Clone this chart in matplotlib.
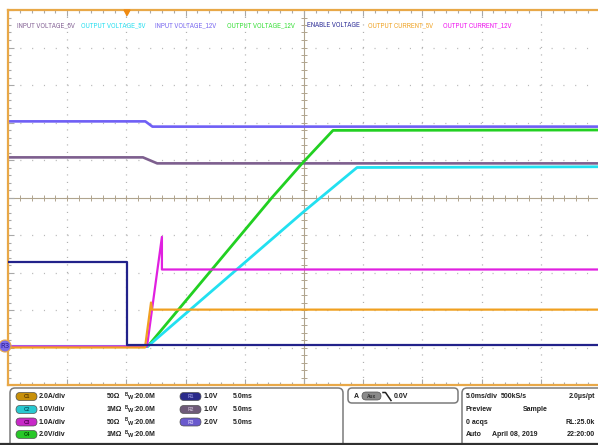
import matplotlib.pyplot as plt
import numpy as np
from matplotlib import font_manager
from matplotlib.patches import FancyBboxPatch, Circle, Polygon

plt.rcParams['lines.scale_dashes'] = False

# scope capture: time in ms (5 ms/div), level in screen divisions
t_in12 = [-25, -13.4, -12.8, 25]
v_in12 = [2.03, 2.03, 1.89, 1.89]
t_in5 = [-25, -13.6, -12.4, 25]
v_in5 = [1.07, 1.07, 0.91, 0.91]
t_out12 = [-25, -13.2, -2.7, -0.1, 2.45, 25]
v_out12 = [-3.97, -3.97, 0.0, 0.93, 1.79, 1.80]
t_out5 = [-25, -13.2, 0.0, 4.48, 25]
v_out5 = [-3.97, -3.97, -0.37, 0.80, 0.82]
t_i12 = [-25, -13.26, -12.0, -12.0, 25]
v_i12 = [-3.97, -3.97, -1.05, -1.92, -1.92]
t_i5 = [-25, -13.43, -12.92, -12.84, 25]
v_i5 = [-4.0, -4.0, -2.80, -2.99, -2.99]
t_en = [-25, -14.95, -14.95, 25]
v_en = [-1.73, -1.73, -3.93, -3.93]

trace_names = ['INPUT VOLTAGE_5V', 'OUTPUT VOLTAGE_5V', 'INPUT VOLTAGE_12V',
               'OUTPUT VOLTAGE_12V', 'ENABLE VOLTAGE', 'OUTPUT CURRENT_5V',
               'OUTPUT CURRENT_12V']
name_colors = ['#8a6a9a', '#30e0f0', '#7f6ff0', '#40e040', '#34349a',
               '#f0a830', '#f020f0']
name_x = [17, 81, 155, 227, 307, 368, 443]

ch_names = ['C1', 'C2', 'C3', 'C4']
ch_scale = ['2.0A/div', '1.0V/div', '1.0A/div', '2.0V/div']
ch_imp = ['50\u03a9', '1M\u03a9', '50\u03a9', '1M\u03a9']
ch_bw = [':20.0M', ':20.0M', ':20.0M', ':20.0M']
ch_col = ['#c8900a', '#28c8d0', '#c828c8', '#28c828']
ch_txt = ['#5a3a00', '#005a66', '#520052', '#005200']
ref_names = ['R1', 'R2', 'R3']
ref_volt = ['1.0V', '1.0V', '2.0V']
ref_time = ['5.0ms', '5.0ms', '5.0ms']
ref_col = ['#2a2a8a', '#6e5a78', '#6a5acd']
ref_txt = ['#8c8cd8', '#c0b0c8', '#c8c0f0']

acq_left = ['5.0ms/div', 'Preview', '0 acqs', 'Auto']
acq_mid = ['500kS/s', 'Sample', '', 'April 08, 2019']
acq_right = ['2.0\u00b5s/pt', '', 'RL:25.0k', '22:20:00']

installed = {f.name for f in font_manager.fontManager.ttflist}
if 'Archivo Narrow' in installed:
    label_font, label_size = ['Archivo Narrow', 'DejaVu Sans'], 5.2
else:
    label_font, label_size = ['Liberation Sans', 'DejaVu Sans'], 4.2
info_font, info_size = ['Liberation Sans', 'DejaVu Sans'], 5.0

W, H = 598, 445
fig = plt.figure(figsize=(W / 100, H / 100), dpi=100)
fig.patch.set_facecolor('white')

ax = fig.add_axes([8 / W, 60 / H, 592 / W, 375 / H])
ax.set_xlim(-25, 25)
ax.set_ylim(-5, 5)
frame = '#e8a848'
for s in ['top', 'left', 'bottom']:
    ax.spines[s].set_color(frame)
    ax.spines[s].set_linewidth(1.6)
ax.spines['right'].set_visible(False)
ax.set_xticks(np.arange(-25, 26, 5))
ax.set_xticks(np.arange(-25, 26, 1), minor=True)
ax.set_yticks(np.arange(-5, 6, 1))
ax.set_yticks(np.arange(-5, 5.01, 0.2), minor=True)
ax.tick_params(which='both', direction='in', top=True, bottom=True,
               left=True, right=False, labelbottom=False, labelleft=False,
               color='#a8a8a8', width=0.8)
ax.tick_params(which='major', length=4)
ax.tick_params(which='minor', length=2.2)

# dotted graticule
for k in range(-4, 5):
    if k == 0:
        continue
    ax.axvline(k * 5, color='#b0b0b0', lw=0.9, dashes=(0.8, 4.6), zorder=0)
    ax.axhline(k, color='#b8b8b8', lw=0.9, dashes=(0.8, 7.7), zorder=0)
# centre cross with ticks
ax.axvline(0, color='#b0a48e', lw=0.8, zorder=0.5)
ax.axhline(0, color='#b0a48e', lw=0.8, zorder=0.5)
ax.hlines(np.arange(-5, 5.01, 0.2), -0.25, 0.25, color='#b0a48e', lw=0.7, zorder=0.5)
ax.vlines(np.arange(-25, 25.01, 1), -0.08, 0.08, color='#b0a48e', lw=0.7, zorder=0.5)

ax.plot(t_in12, v_in12, color='#6f5ff5', lw=1.9, zorder=2)
ax.plot(t_in5, v_in5, color='#7d5f8e', lw=1.9, zorder=2)
ax.plot(t_out12, v_out12, color='#22d022', lw=2.0, zorder=3)
ax.plot(t_out5, v_out5, color='#22e0f0', lw=2.0, zorder=3)
ax.plot(t_i12, v_i12, color='#e020e0', lw=1.6, zorder=4)
ax.plot(t_i5, v_i5, color='#f0a020', lw=1.6, zorder=4)
ax.plot(t_en, v_en, color='#22228a', lw=1.6, zorder=5)

# overlay in pixel coordinates for screen furniture
ov = fig.add_axes([0, 0, 1, 1])
ov.set_xlim(0, W)
ov.set_ylim(H, 0)
ov.axis('off')

for name, c, x in zip(trace_names, name_colors, name_x):
    ov.text(x, 25, name, color=c, fontsize=label_size, family=label_font, va='center')

# trigger marker and ground marker
ov.add_patch(Polygon([[124, 10], [130, 10], [127, 15.5]], closed=True,
                     color='#f08a10', zorder=6))
ov.add_patch(Circle((5, 346), 6, facecolor='#7b6be8', edgecolor='#e8a848',
                    lw=0.8, zorder=6))
ov.text(5, 346.5, 'R3', fontsize=5, color='#2a1a90', ha='center', va='center', zorder=7)

# info panel
box_kw = dict(facecolor='white', edgecolor='#7a7a7a', lw=1.1)
ov.add_patch(FancyBboxPatch((10, 388), 333, 70, boxstyle='round,pad=0,rounding_size=5', **box_kw))
ov.add_patch(FancyBboxPatch((348, 388), 110, 15, boxstyle='round,pad=0,rounding_size=4', **box_kw))
ov.add_patch(FancyBboxPatch((462, 388), 150, 70, boxstyle='round,pad=0,rounding_size=5', **box_kw))
ov.plot([0, W], [443.5, 443.5], color='#303030', lw=1.6)

bold = dict(fontsize=info_size, family=info_font, weight='bold', color='#202020', va='center')
rows = [396.5, 409.5, 422, 434.5]


def badge(x, y, label, fc, tc):
    ov.add_patch(FancyBboxPatch((x, y - 4), 21, 8, boxstyle='round,pad=0,rounding_size=4',
                                facecolor=fc, edgecolor='#505050', lw=0.5))
    ov.text(x + 10.5, y + 0.3, label, fontsize=3.6, family=info_font, weight='bold',
            color=tc, ha='center', va='center')


for i in range(4):
    y = rows[i]
    badge(16, y, ch_names[i], ch_col[i], ch_txt[i])
    ov.text(39, y, ch_scale[i], **bold)
    ov.text(107, y, ch_imp[i], **bold)
    ov.text(125, y - 2.2, 'B', fontsize=info_size * 0.65, family=info_font, weight='bold', color='#202020', va='center')
    ov.text(127.5, y + 1.2, 'W', fontsize=info_size * 0.8, family=info_font, weight='bold', color='#202020', va='center')
    ov.text(133, y, ch_bw[i], **bold)
for i in range(3):
    y = rows[i]
    badge(180, y, ref_names[i], ref_col[i], ref_txt[i])
    ov.text(204, y, ref_volt[i], **bold)
    ov.text(233, y, ref_time[i], **bold)

ov.text(354, 396, 'A', **bold)
ov.add_patch(FancyBboxPatch((362, 392), 19, 8, boxstyle='round,pad=0,rounding_size=4',
                            facecolor='#8a8a8a', edgecolor='#505050', lw=0.5))
ov.text(371.5, 396.3, 'Aux', fontsize=3.5, family=info_font, weight='bold',
        color='#303030', ha='center', va='center')
ov.plot([383, 385.5, 391], [392.5, 392.5, 400.5], color='#202020', lw=1.1)
ov.text(394, 396, '0.0V', **bold)

mid_x = [501, 523, 501, 492]
for i in range(4):
    y = rows[i]
    ov.text(466, y, acq_left[i], **bold)
    ov.text(mid_x[i], y, acq_mid[i], **bold)
    ov.text(595, y, acq_right[i], ha='right', **bold)

fig.savefig('out.png', dpi=100)
